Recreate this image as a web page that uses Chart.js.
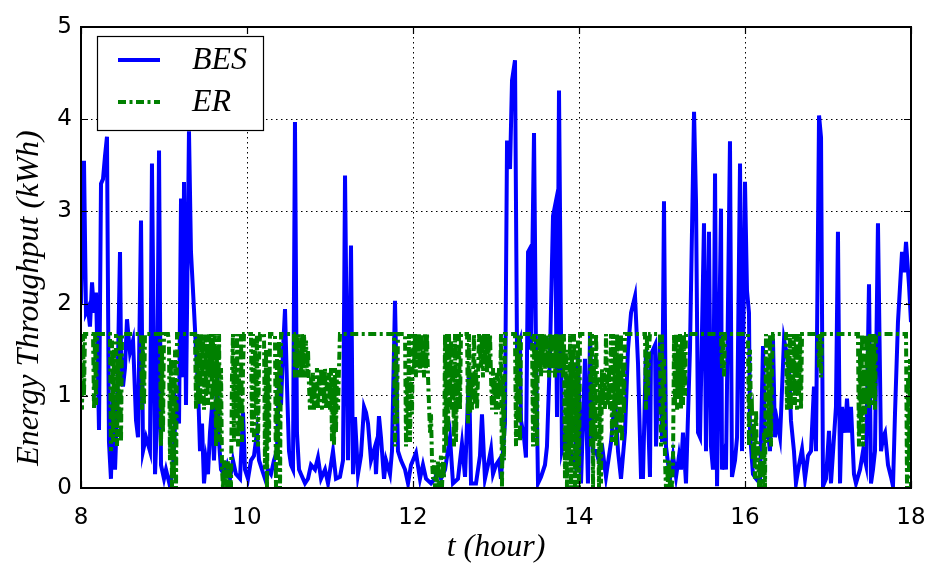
<!DOCTYPE html>
<html><head><meta charset="utf-8">
<script src="https://cdn.jsdelivr.net/npm/chart.js@4/dist/chart.umd.min.js"></script>
<style>html,body{margin:0;padding:0;background:#fff;}#wrap{width:934px;height:570px;}</style>
</head><body><div id="wrap"><canvas id="c" width="934" height="570"></canvas></div>
<script>
// ---- data ----
const xTicks = [8, 10, 12, 14, 16, 18];
const yTicks = [0, 1, 2, 3, 4, 5];
const seriesNames = ['BES', 'ER'];
const xTitle = 't (hour)';
const yTitle = 'Energy Throughput (kWh)';

const besTime = [
8.000,8.036,8.060,8.084,8.108,8.133,8.157,8.181,8.205,8.217,
8.241,8.265,8.289,8.313,8.337,8.361,8.386,8.410,8.434,8.470,
8.482,8.506,8.530,8.554,8.590,8.627,8.663,8.687,8.723,8.747,
8.783,8.831,8.855,8.892,8.916,8.940,8.964,9.000,9.024,9.072,
9.108,9.145,9.181,9.205,9.229,9.241,9.265,9.301,9.325,9.361,
9.386,9.410,9.434,9.458,9.482,9.506,9.530,9.554,9.578,9.602,
9.639,9.663,9.687,9.723,9.759,9.795,9.831,9.867,9.916,9.952,
9.976,10.012,10.048,10.084,10.120,10.145,10.181,10.217,10.253,10.289,
10.325,10.361,10.386,10.410,10.434,10.458,10.482,10.506,10.530,10.554,
10.578,10.602,10.627,10.651,10.699,10.735,10.771,10.819,10.855,10.892,
10.940,10.976,11.036,11.072,11.120,11.157,11.181,11.217,11.253,11.277,
11.301,11.337,11.373,11.410,11.434,11.458,11.494,11.542,11.554,11.590,
11.614,11.651,11.675,11.723,11.747,11.783,11.819,11.855,11.904,11.940,
11.976,12.036,12.084,12.120,12.157,12.217,12.265,12.301,12.337,12.386,
12.446,12.482,12.542,12.590,12.627,12.675,12.699,12.759,12.807,12.831,
12.867,12.904,12.940,12.964,13.000,13.036,13.060,13.108,13.133,13.169,
13.193,13.229,13.253,13.289,13.301,13.337,13.361,13.386,13.410,13.422,
13.458,13.482,13.506,13.542,13.590,13.614,13.651,13.687,13.711,13.735,
13.759,13.795,13.831,13.867,13.904,13.952,13.988,14.024,14.072,14.108,
14.133,14.169,14.205,14.253,14.289,14.325,14.386,14.434,14.470,14.506,
14.554,14.590,14.627,14.675,14.711,14.747,14.771,14.807,14.855,14.867,
14.916,14.928,14.976,15.000,15.024,15.048,15.096,15.133,15.169,15.205,
15.229,15.253,15.289,15.337,15.386,15.410,15.434,15.458,15.506,15.530,
15.566,15.590,15.614,15.639,15.663,15.711,15.723,15.759,15.771,15.819,
15.843,15.880,15.904,15.940,15.964,16.000,16.024,16.048,16.060,16.096,
16.133,16.181,16.217,16.241,16.277,16.301,16.337,16.361,16.386,16.422,
16.434,16.470,16.494,16.530,16.554,16.590,16.614,16.651,16.687,16.723,
16.759,16.795,16.831,16.855,16.892,16.916,16.940,16.976,17.012,17.036,
17.072,17.096,17.120,17.145,17.169,17.205,17.229,17.253,17.277,17.313,
17.337,17.386,17.422,17.458,17.494,17.518,17.542,17.566,17.602,17.639,
17.663,17.687,17.723,17.759,17.783,17.807,17.843,17.892,17.916,17.940,
17.976,18.000
];
const besValue = [
2.0,3.55,1.9,1.95,1.75,2.23,1.9,2.12,1.2,0.63,
3.3,3.35,3.6,3.81,0.5,0.1,1.0,0.2,0.8,2.56,
1.47,1.1,1.3,1.83,1.47,1.6,0.73,0.55,2.9,0.4,
0.55,0.4,3.52,0.15,0.73,3.66,0.25,0.1,0.2,0.02,
0.22,0.9,0.7,3.14,1.2,3.32,0.9,3.87,2.56,1.94,
1.5,1.1,0.4,0.7,0.05,0.3,0.15,0.6,0.88,0.3,
1.2,0.5,0.2,0.15,0.25,0.1,0.3,0.15,0.1,0.82,
0.2,0.1,0.3,0.35,0.6,0.3,0.2,0.1,0.2,0.15,
0.3,0.4,1.25,0.9,1.5,1.94,1.1,0.4,0.25,0.2,
3.97,0.6,0.2,0.15,0.05,0.1,0.25,0.2,0.33,0.1,
0.2,0.05,0.4,0.1,0.12,0.3,3.39,0.3,2.63,0.15,
0.77,0.15,0.35,0.88,0.82,0.7,0.3,0.45,0.15,0.78,
0.55,0.1,0.3,0.15,0.4,2.03,0.4,0.3,0.2,0.05,
0.25,0.38,0.1,0.25,0.1,0.05,0.1,0.2,0.1,0.2,
0.55,0.05,0.1,0.48,0.12,1.28,0.05,0.05,0.35,0.8,
0.1,0.25,0.42,0.15,0.25,0.3,0.1,0.7,3.77,3.46,
4.42,4.64,1.5,1.6,0.73,0.55,0.33,2.56,2.6,1.5,
3.85,1.5,0.05,0.12,0.25,0.45,1.47,2.95,3.06,0.77,
4.31,0.41,0.55,0.4,0.38,0.25,1.47,0.05,1.4,0.05,
1.69,0.4,0.4,0.25,0.38,0.12,0.5,0.99,0.4,0.1,
0.6,1.5,1.9,2.08,1.35,0.12,0.12,1.5,0.12,1.45,
1.55,0.45,1.65,0.5,3.11,0.45,0.1,0.35,0.12,0.35,
0.2,0.6,0.05,1.5,4.08,3.1,0.6,0.55,2.87,0.4,
2.78,0.45,0.2,3.41,0.02,3.03,0.2,0.4,0.2,3.76,
0.12,0.3,0.55,3.52,0.4,3.32,2.14,1.9,0.6,0.15,
0.1,0.05,1.54,0.55,0.6,0.4,1.62,0.55,0.73,0.55,
0.8,1.61,1.5,1.3,0.73,0.4,0.05,0.25,0.42,0.1,
0.35,0.4,1.1,0.4,4.04,3.8,0.02,0.1,0.62,0.05,
0.55,0.88,2.78,0.05,0.88,0.6,0.97,0.6,0.88,0.15,
0.05,0.2,0.4,0.25,2.21,0.05,0.2,0.4,2.87,0.4,
0.55,0.6,0.25,0.12,0.02,0.8,1.8,2.56,2.34,2.67,
2.2,1.8
];

const erTime = [
8.000,8.012,8.024,8.036,8.048,8.145,8.157,8.169,8.181,8.193,
8.349,8.361,8.373,8.386,8.398,8.410,8.422,8.434,8.446,8.458,
8.470,8.482,8.494,8.723,8.735,8.747,8.759,8.771,8.952,8.964,
8.976,8.988,9.000,9.048,9.060,9.072,9.084,9.096,9.108,9.120,
9.133,9.145,9.157,9.373,9.386,9.398,9.410,9.422,9.434,9.446,
9.458,9.470,9.482,9.494,9.506,9.518,9.530,9.542,9.554,9.566,
9.578,9.590,9.602,9.614,9.627,9.639,9.651,9.663,9.675,9.687,
9.699,9.711,9.723,9.735,9.747,9.759,9.771,9.783,9.795,9.807,
9.819,9.831,9.843,9.855,9.867,9.880,9.892,9.904,9.916,9.928,
9.940,9.952,9.964,10.048,10.060,10.072,10.084,10.096,10.108,10.120,
10.133,10.145,10.157,10.205,10.217,10.229,10.241,10.253,10.265,10.277,
10.337,10.349,10.361,10.373,10.386,10.398,10.410,10.566,10.578,10.590,
10.602,10.614,10.627,10.639,10.651,10.663,10.675,10.687,10.699,10.711,
10.723,10.735,10.747,10.759,10.771,10.783,10.795,10.807,10.819,10.831,
10.843,10.855,10.867,10.880,10.892,10.904,10.916,10.928,10.940,10.952,
10.964,10.976,10.988,11.000,11.012,11.024,11.036,11.048,11.060,11.072,
11.084,11.096,11.108,11.120,11.771,11.783,11.795,11.807,11.819,11.904,
11.916,11.928,11.940,11.952,11.964,11.976,11.988,12.000,12.012,12.024,
12.036,12.048,12.060,12.072,12.084,12.096,12.108,12.120,12.133,12.145,
12.157,12.169,12.181,12.193,12.205,12.217,12.229,12.241,12.253,12.265,
12.277,12.289,12.301,12.313,12.325,12.337,12.349,12.361,12.373,12.386,
12.398,12.410,12.422,12.434,12.446,12.458,12.470,12.482,12.494,12.506,
12.518,12.530,12.542,12.554,12.566,12.578,12.651,12.663,12.675,12.687,
12.699,12.711,12.723,12.735,12.747,12.759,12.771,12.783,12.795,12.819,
12.831,12.843,12.855,12.867,12.880,12.892,12.904,12.916,12.928,12.940,
12.952,12.964,12.976,12.988,13.000,13.012,13.024,13.036,13.048,13.060,
13.072,13.084,13.096,13.108,13.229,13.241,13.253,13.265,13.277,13.289,
13.301,13.434,13.446,13.458,13.470,13.482,13.494,13.506,13.518,13.530,
13.542,13.554,13.566,13.578,13.590,13.602,13.614,13.627,13.639,13.651,
13.663,13.675,13.687,13.699,13.711,13.723,13.735,13.747,13.759,13.771,
13.783,13.795,13.807,13.819,13.831,13.843,13.855,13.867,13.880,13.892,
13.904,13.916,13.928,13.940,13.952,13.964,13.976,13.988,14.000,14.012,
14.133,14.145,14.157,14.169,14.181,14.193,14.205,14.217,14.229,14.241,
14.253,14.265,14.277,14.289,14.301,14.313,14.325,14.337,14.349,14.361,
14.373,14.386,14.398,14.410,14.422,14.434,14.446,14.458,14.470,14.482,
14.494,14.506,14.518,14.530,14.542,14.554,14.795,14.807,14.819,14.831,
14.843,14.855,14.976,14.988,15.000,15.012,15.024,15.036,15.048,15.060,
15.072,15.084,15.096,15.108,15.120,15.133,15.145,15.157,15.169,15.181,
15.193,15.205,15.217,15.229,15.241,15.253,15.265,15.277,15.289,15.711,
15.723,15.735,15.747,15.759,16.036,16.048,16.060,16.072,16.084,16.096,
16.108,16.120,16.133,16.145,16.157,16.169,16.181,16.193,16.205,16.217,
16.229,16.241,16.253,16.265,16.277,16.289,16.301,16.313,16.325,16.337,
16.494,16.506,16.518,16.530,16.542,16.554,16.566,16.578,16.590,16.602,
16.614,16.627,16.639,16.651,16.663,16.675,16.687,16.880,16.892,16.904,
16.916,16.928,17.361,17.373,17.386,17.398,17.410,17.422,17.434,17.446,
17.458,17.470,17.482,17.494,17.506,17.518,17.530,17.542,17.554,17.566,
17.578,17.940,17.952,17.964,17.976,17.988,18.000
];
const erValue = [
1.67,0.85,1.67,1.0,1.67,1.67,0.85,1.67,0.9,1.67,
1.67,0.4,1.6,0.5,1.5,0.6,1.67,0.45,1.4,0.7,
1.67,0.5,1.67,1.67,0.85,1.6,0.9,1.67,1.67,0.45,
1.5,0.6,1.67,1.67,1.57,0.3,1.4,0.0,1.2,0.1,
1.5,0.0,1.67,1.67,0.85,1.67,1.0,1.67,0.9,1.67,
1.1,1.6,0.85,1.67,1.0,1.5,0.9,1.67,1.2,1.67,
0.85,1.6,1.0,1.67,0.45,1.5,0.6,1.67,0.5,1.3,
0.2,0.0,0.3,0.05,0.25,0.0,0.3,0.0,0.2,0.0,
1.2,1.67,0.5,1.4,0.8,1.67,0.45,1.2,0.6,1.67,
0.5,1.3,1.67,1.67,0.6,1.67,0.5,1.5,0.8,1.67,
0.45,1.4,1.67,1.67,0.2,1.5,0.0,1.3,0.5,1.67,
1.67,0.0,1.4,0.3,1.6,0.0,1.67,1.67,1.2,1.67,
1.3,1.67,1.2,1.6,1.25,1.67,1.2,1.67,1.3,1.6,
1.2,1.5,1.1,0.85,1.2,0.9,1.25,0.85,1.15,0.9,
1.3,0.85,1.2,1.0,1.3,0.85,1.2,0.9,1.3,0.85,
1.2,0.9,1.25,0.85,1.3,0.5,1.2,0.45,1.3,0.6,
1.25,0.85,1.3,1.67,1.67,0.45,1.5,0.7,1.67,1.67,
0.45,1.2,0.6,1.67,0.5,1.2,0.8,1.67,1.3,1.67,
1.2,1.67,1.4,1.67,1.25,1.67,1.3,1.6,1.2,1.67,
1.3,1.67,1.2,0.9,0.6,0.8,0.3,0.1,0.3,0.0,
0.25,0.05,0.3,0.0,0.2,0.35,0.0,0.3,0.1,1.67,
0.45,1.67,0.6,1.67,0.9,1.6,0.85,1.3,0.45,1.67,
0.5,1.2,0.9,1.67,0.85,1.67,1.67,0.7,1.67,0.8,
1.2,0.85,1.25,1.67,0.9,1.3,0.85,1.2,1.67,1.3,
1.67,1.2,1.67,1.4,1.67,1.25,1.67,1.3,1.67,1.2,
0.85,1.3,0.9,1.2,0.8,1.25,0.85,1.3,1.0,1.67,
0.0,1.2,0.3,1.67,1.67,0.45,1.5,0.7,1.67,0.5,
1.67,1.67,0.45,1.67,0.6,1.5,0.45,1.67,1.3,1.67,
1.2,1.67,1.35,1.67,1.25,1.67,1.3,1.6,1.2,1.67,
1.3,1.67,1.25,1.67,1.2,1.67,1.3,1.67,1.25,1.67,
1.3,1.67,1.2,1.67,0.1,1.5,0.0,1.2,0.3,1.67,
0.0,1.4,0.5,1.67,0.0,1.3,0.2,1.6,0.0,1.67,
1.67,0.45,1.67,0.0,1.4,0.5,1.67,1.2,0.85,0.0,
1.2,0.05,1.3,0.9,1.25,0.85,1.67,1.2,0.9,1.3,
0.85,1.67,0.5,1.67,0.8,1.5,0.45,1.67,0.9,1.4,
0.6,1.67,0.5,1.3,0.8,1.67,1.67,0.85,1.67,1.0,
1.5,1.67,1.67,0.45,1.67,0.6,1.4,0.3,0.0,0.25,
0.05,0.3,0.0,0.2,0.0,0.3,1.67,0.9,1.67,0.85,
1.5,1.0,1.67,0.85,1.6,0.9,1.67,1.0,1.67,1.67,
1.3,1.67,1.2,1.67,1.67,0.45,1.5,0.8,0.85,0.3,
0.7,0.1,0.85,0.2,0.5,0.0,0.3,0.0,0.4,0.05,
0.6,0.0,1.67,0.5,1.4,0.6,1.67,0.45,1.3,1.67,
1.67,0.85,1.5,0.9,1.67,0.85,1.4,1.0,1.67,0.9,
1.67,0.85,1.67,1.0,1.67,0.85,1.67,1.67,1.3,1.67,
1.2,1.67,1.67,0.45,1.5,0.6,1.67,0.45,1.3,0.8,
1.67,0.9,1.6,0.85,1.67,1.0,1.5,0.9,1.67,0.85,
1.67,1.67,0.0,1.2,0.2,1.4,0.0
];

// ---- chart ----
const serifItalic = {family: '"Liberation Serif", "DejaVu Serif", serif', size: 32, style: 'italic'};
const xTickFont = {family: '"DejaVu Sans", sans-serif', size: 23, lineHeight: 1.9};
const yTickFont = {family: '"DejaVu Sans", sans-serif', size: 23};

const decor = {
  id: 'decor',
  afterDatasetsDraw(chart) {
    const {ctx, chartArea: a, scales: {x, y}} = chart;
    ctx.save();
    // inward ticks
    ctx.strokeStyle = '#000';
    ctx.lineWidth = 1.2;
    ctx.setLineDash([]);
    ctx.beginPath();
    xTicks.forEach(v => {
      const px = Math.round(x.getPixelForValue(v)) + 0.5;
      ctx.moveTo(px, a.bottom); ctx.lineTo(px, a.bottom - 7);
      ctx.moveTo(px, a.top); ctx.lineTo(px, a.top + 7);
    });
    yTicks.forEach(v => {
      const py = Math.round(y.getPixelForValue(v)) + 0.5;
      ctx.moveTo(a.left, py); ctx.lineTo(a.left + 7, py);
      ctx.moveTo(a.right, py); ctx.lineTo(a.right - 7, py);
    });
    ctx.stroke();
    // frame
    ctx.lineWidth = 2;
    ctx.strokeRect(a.left, a.top, a.right - a.left, a.bottom - a.top);
    // legend
    const bx = a.left + 16, by = a.top + 9, bw = 166, bh = 94;
    ctx.fillStyle = '#fff';
    ctx.fillRect(bx, by, bw, bh);
    ctx.lineWidth = 1.2;
    ctx.strokeRect(bx + 0.5, by + 0.5, bw, bh);
    chart.data.datasets.forEach((ds, i) => {
      const ly = by + 24 + i * 42;
      ctx.strokeStyle = ds.borderColor;
      ctx.lineWidth = ds.borderWidth;
      ctx.setLineDash(ds.borderDash || []);
      ctx.beginPath();
      ctx.moveTo(bx + 21, ly); ctx.lineTo(bx + 63, ly);
      ctx.stroke();
      ctx.setLineDash([]);
      ctx.fillStyle = '#000';
      ctx.font = 'italic 32px "Liberation Serif", "DejaVu Serif", serif';
      ctx.textBaseline = 'middle';
      ctx.textAlign = 'left';
      ctx.fillText(ds.label, bx + 95, ly + 1);
    });
    // y axis title
    ctx.translate(30, 298);
    ctx.rotate(-Math.PI / 2);
    ctx.textAlign = 'center';
    ctx.textBaseline = 'middle';
    ctx.fillStyle = '#000';
    ctx.font = 'italic 32px "Liberation Serif", "DejaVu Serif", serif';
    ctx.fillText(yTitle, 0, 0);
    ctx.restore();
  }
};

const toPoints = (ts, vs) => ts.map((t, i) => ({x: t, y: vs[i]}));

new Chart(document.getElementById('c'), {
  type: 'line',
  data: {
    datasets: [
      {label: seriesNames[0], data: toPoints(besTime, besValue), borderColor: '#0000ff', borderWidth: 4,
       pointRadius: 0, tension: 0, borderJoinStyle: 'miter', order: 2},
      {label: seriesNames[1], data: toPoints(erTime, erValue), borderColor: '#008000', borderWidth: 4,
       borderDash: [8, 3.5, 3, 3.5], pointRadius: 0, tension: 0, order: 1}
    ]
  },
  options: {
    responsive: false,
    animation: false,
    devicePixelRatio: 1,
    parsing: true,
    layout: {padding: {top: 27, right: 23, left: 0, bottom: 0}},
    plugins: {legend: {display: false}, tooltip: {enabled: false}},
    scales: {
      x: {
        type: 'linear', min: 8, max: 18,
        afterBuildTicks: s => { s.ticks = xTicks.map(v => ({value: v})); },
        afterFit: s => { s.height = 82; },
        ticks: {font: xTickFont, color: '#000', padding: 8, maxRotation: 0, autoSkip: false},
        grid: {color: '#000', lineWidth: 1, drawTicks: false},
        border: {display: false, dash: [1.5, 3.5]},
        title: {display: true, text: xTitle, font: serifItalic, color: '#000', padding: {top: 0, bottom: 3}}
      },
      y: {
        type: 'linear', min: 0, max: 5,
        afterBuildTicks: s => { s.ticks = yTicks.map(v => ({value: v})); },
        afterFit: s => { s.width = 81; },
        ticks: {font: yTickFont, color: '#000', padding: 9},
        grid: {color: '#000', lineWidth: 1, drawTicks: false},
        border: {display: false, dash: [1.5, 3.5]}
      }
    }
  },
  plugins: [decor]
});
</script>
</body></html>
